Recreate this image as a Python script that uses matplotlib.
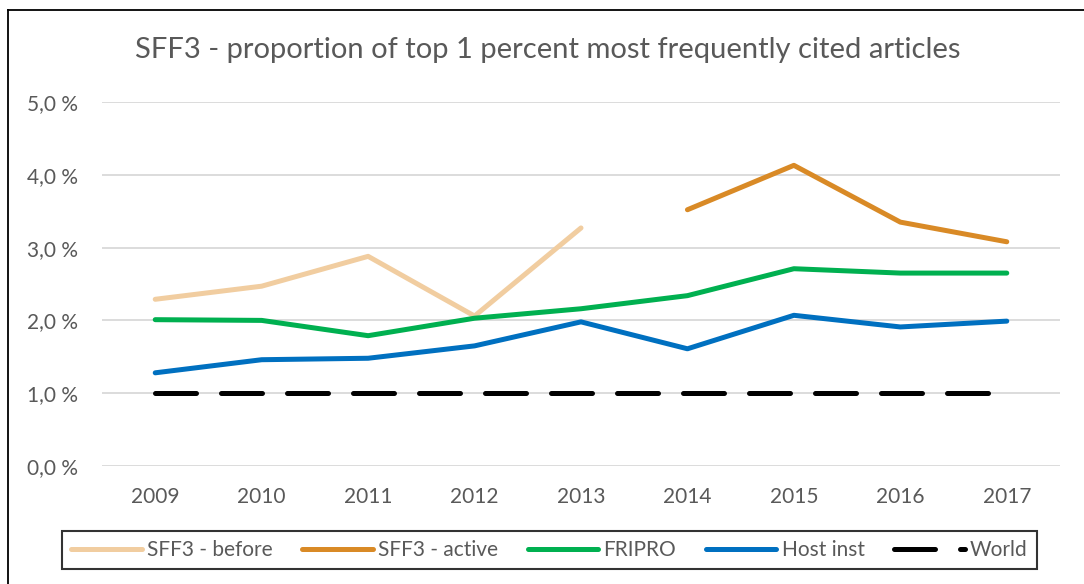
import numpy as np
import matplotlib
matplotlib.use("Agg")
import matplotlib.pyplot as plt
from matplotlib.lines import Line2D
from matplotlib.ticker import FuncFormatter

plt.rcParams['font.family'] = ['Lato', 'DejaVu Sans']

years = ['2009', '2010', '2011', '2012', '2013', '2014', '2015', '2016', '2017']
sff3_before = [2.29, 2.47, 2.88, 2.06, 3.27, np.nan, np.nan, np.nan, np.nan]
sff3_active = [np.nan, np.nan, np.nan, np.nan, np.nan, 3.52, 4.13, 3.35, 3.08]
fripro = [2.01, 2.00, 1.79, 2.03, 2.16, 2.34, 2.71, 2.65, 2.65]
host_inst = [1.28, 1.46, 1.48, 1.65, 1.98, 1.61, 2.07, 1.91, 1.99]
world = [1.0, 1.0, 1.0, 1.0, 1.0, 1.0, 1.0, 1.0, 1.0]

W, H = 1084, 584
gray = '#595959'
fig = plt.figure(figsize=(W/100, H/100), dpi=100)
ax = fig.add_axes([102/W, 1-466/H, (1060-102)/W, (466-102)/H])

x = np.arange(len(years))
lw = 3.6
ax.plot(x, sff3_before, color='#F1CDA0', lw=lw, solid_capstyle='round', label='SFF3 - before')
ax.plot(x, sff3_active, color='#D98A26', lw=lw, solid_capstyle='round', label='SFF3 - active')
ax.plot(x, fripro, color='#00B050', lw=lw, solid_capstyle='round', label='FRIPRO')
ax.plot(x, host_inst, color='#0070C0', lw=lw, solid_capstyle='round', label='Host inst')
ax.plot(x, world, color='black', lw=lw, dashes=(8.2, 5), dash_capstyle='round', label='World')

ax.set_xlim(-0.5, len(years)-0.5)
ax.set_ylim(0, 5)
ax.set_yticks(np.arange(0, 5.01, 1.0))
ax.yaxis.set_major_formatter(FuncFormatter(lambda v, p: f"{v:.1f} %".replace('.', ',')))
ax.set_xticks(x)
ax.set_xticklabels(years)
ax.grid(axis='y', color='#D9D9D9', lw=1.3)
ax.set_axisbelow(True)
for s in ax.spines.values():
    s.set_visible(False)
ax.tick_params(length=0, labelsize=15, colors=gray)
ax.tick_params(axis='x', pad=15)
ax.tick_params(axis='y', pad=17)

fig.text(548/W, 1-50/H, 'SFF3 - proportion of top 1 percent most frequently cited articles',
         ha='center', va='center', fontsize=21, color=gray)

leg = fig.legend(loc='center', bbox_to_anchor=(62/W, 1-573/H, (1037-62)/W, 46/H), mode='expand',
                 ncol=5, frameon=True, fontsize=15, handlelength=3.4, columnspacing=1.0,
                 handletextpad=0.25, borderpad=0.45, borderaxespad=0, fancybox=False)
leg.get_frame().set_edgecolor('black')
leg.get_frame().set_linewidth(1.5)
for t in leg.get_texts():
    t.set_color(gray)

fig.add_artist(Line2D([8/W, 8/W], [0, 1-10/H], transform=fig.transFigure, color='black', lw=1.3))
fig.add_artist(Line2D([8/W, 1], [1-10/H, 1-10/H], transform=fig.transFigure, color='black', lw=1.3))
fig.savefig('out.png', dpi=100)
